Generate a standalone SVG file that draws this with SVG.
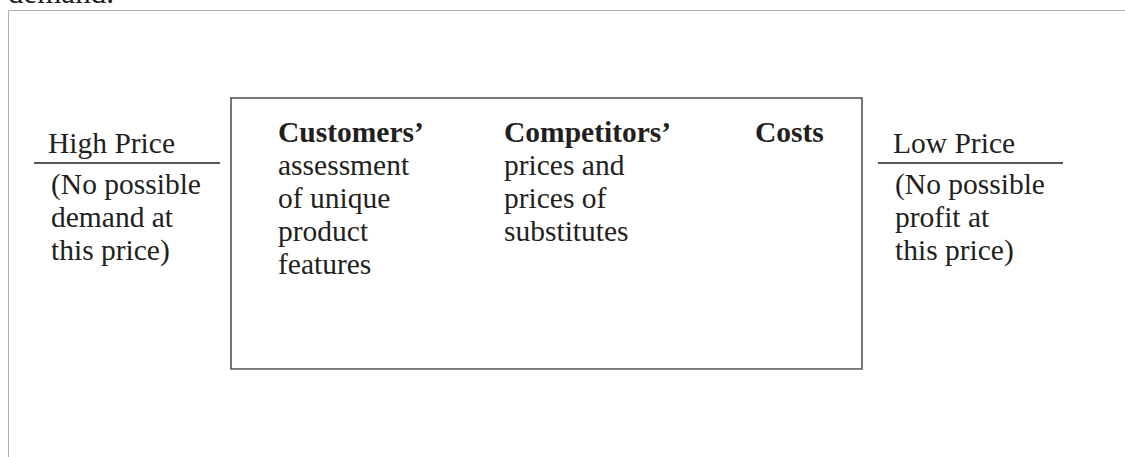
<svg xmlns="http://www.w3.org/2000/svg" width="1125" height="457" viewBox="0 0 1125 457">
<style>
text{font-family:"Liberation Serif","Times New Roman",serif;font-size:29.5px;fill:#231f20}
.b{font-weight:bold}
.frame{stroke:#b0b0b0;stroke-width:1;fill:none}
.rule{stroke:#231f20;stroke-width:1.4}
</style>
<rect width="1125" height="457" fill="#fff"/>
<text x="8" y="3" style="font-size:31px">demand.</text>
<path class="frame" d="M8.5,457 V10.5 H1125"/>
<g id="box">
<rect x="231" y="98" width="631" height="271" fill="none" stroke="#4a4a4a" stroke-width="1.5"/>
<line x1="231" y1="369.5" x2="862" y2="369.5" stroke="#888" stroke-width="1"/>
</g>
<g id="high">
<text x="48" y="153">High Price</text>
<line class="rule" x1="34" y1="163" x2="220" y2="163"/>
<text x="51" y="194">(No possible</text>
<text x="51" y="227">demand at</text>
<text x="51" y="260">this price)</text>
</g>
<g id="customers">
<text class="b" x="278" y="142">Customers’</text>
<text x="278" y="175">assessment</text>
<text x="278" y="208">of unique</text>
<text x="278" y="241">product</text>
<text x="278" y="274">features</text>
</g>
<g id="competitors">
<text class="b" x="504" y="142">Competitors’</text>
<text x="504" y="175">prices and</text>
<text x="504" y="208">prices of</text>
<text x="504" y="241">substitutes</text>
</g>
<g id="costs">
<text class="b" x="755" y="142">Costs</text>
</g>
<g id="low">
<text x="893" y="153">Low Price</text>
<line class="rule" x1="878" y1="163" x2="1063" y2="163"/>
<text x="895" y="194">(No possible</text>
<text x="895" y="227">profit at</text>
<text x="895" y="260">this price)</text>
</g>
<g id="connectors"></g>
</svg>
